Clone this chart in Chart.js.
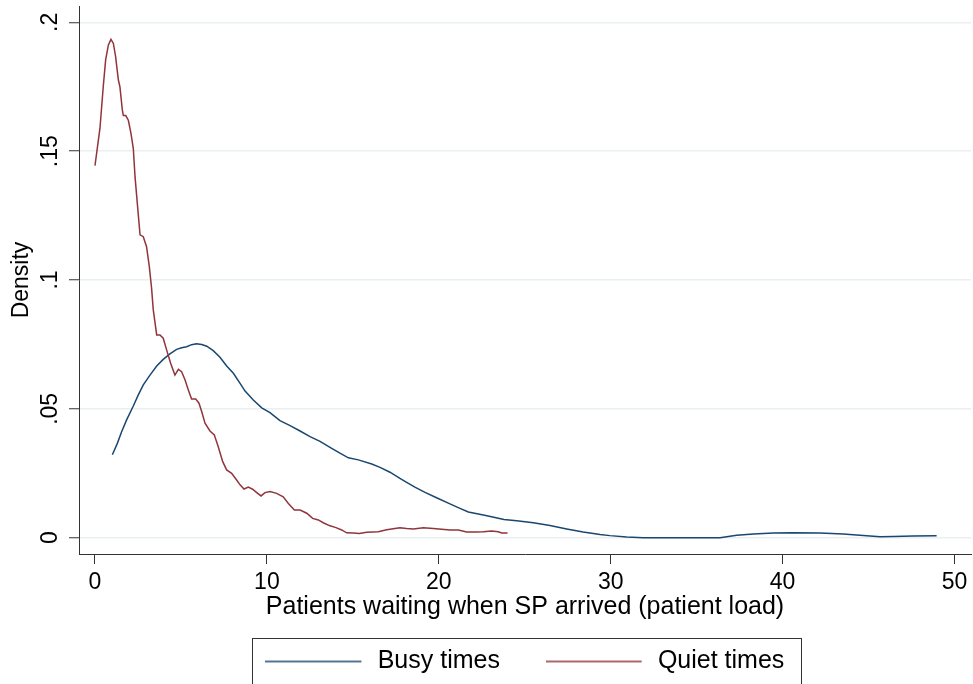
<!DOCTYPE html>
<html><head><meta charset="utf-8">
<script src="https://cdn.jsdelivr.net/npm/chart.js@4.4.1/dist/chart.umd.min.js"></script>
<style>html,body{margin:0;padding:0;background:#fff;} #wrap{width:973px;height:684px;position:relative;}</style>
</head><body><div id="wrap"><canvas id="c"></canvas></div>
<script>
// ---- data ----
const busyX = [1.01,1.30,1.55,1.84,2.23,2.52,2.81,3.20,3.59,3.97,4.36,4.75,5.04,5.33,5.62,5.91,6.21,6.50,6.88,7.27,7.66,8.05,8.44,8.73,9.21,9.70,10.18,10.76,11.35,11.93,12.51,13.09,13.77,14.25,14.74,15.32,16.10,16.58,17.16,17.74,18.13,18.61,19.20,19.87,20.65,21.23,21.72,22.59,23.27,23.79,24.53,25.50,26.47,27.44,28.40,29.38,29.96,30.93,31.90,36.36,37.33,38.30,39.46,40.62,42.17,43.53,44.50,45.67,46.44,47.60,48.96];
const busyY = [0.0322,0.0366,0.0411,0.0457,0.0511,0.0554,0.0593,0.0631,0.0666,0.0692,0.0713,0.0731,0.0737,0.0741,0.0749,0.0753,0.0750,0.0743,0.0726,0.0700,0.0666,0.0638,0.0599,0.0569,0.0534,0.0504,0.0485,0.0454,0.0435,0.0414,0.0392,0.0374,0.0347,0.0328,0.0310,0.0302,0.0286,0.0273,0.0254,0.0230,0.0215,0.0196,0.0176,0.0155,0.0131,0.0114,0.0100,0.0088,0.0078,0.0071,0.0066,0.0058,0.0047,0.0034,0.0022,0.0012,0.0008,0.0003,0.0000,0.0000,0.0009,0.0014,0.0018,0.0019,0.0018,0.0014,0.0009,0.0004,0.0005,0.0007,0.0008];
const quietX = [0.00,0.29,0.48,0.62,0.78,0.93,1.07,1.20,1.36,1.45,1.59,1.65,1.79,1.94,2.09,2.23,2.33,2.48,2.62,2.81,3.00,3.16,3.29,3.39,3.59,3.78,3.97,4.17,4.40,4.65,4.85,5.04,5.24,5.43,5.62,5.86,6.05,6.21,6.40,6.69,6.94,7.17,7.43,7.66,7.95,8.24,8.44,8.67,8.92,9.17,9.41,9.66,9.89,10.18,10.57,10.95,11.25,11.60,11.93,12.32,12.66,12.99,13.28,13.63,14.02,14.35,14.64,15.03,15.38,15.80,16.48,16.97,17.35,17.74,18.13,18.52,19.10,19.68,20.17,20.65,21.14,21.62,22.20,22.59,23.08,23.46,23.66,24.00];
const quietY = [0.1444,0.1589,0.1750,0.1854,0.1912,0.1934,0.1918,0.1867,0.1776,0.1750,0.1660,0.1638,0.1638,0.1620,0.1570,0.1510,0.1400,0.1284,0.1175,0.1168,0.1129,0.1052,0.0970,0.0884,0.0787,0.0787,0.0774,0.0728,0.0677,0.0631,0.0653,0.0644,0.0612,0.0573,0.0538,0.0538,0.0522,0.0489,0.0444,0.0414,0.0399,0.0353,0.0295,0.0263,0.0250,0.0224,0.0205,0.0189,0.0196,0.0188,0.0175,0.0162,0.0175,0.0179,0.0172,0.0159,0.0133,0.0107,0.0107,0.0095,0.0075,0.0069,0.0058,0.0047,0.0039,0.0030,0.0019,0.0018,0.0016,0.0021,0.0023,0.0031,0.0035,0.0039,0.0036,0.0034,0.0039,0.0036,0.0033,0.0030,0.0030,0.0022,0.0022,0.0023,0.0026,0.0023,0.0018,0.0018];
const seriesNames = ['Busy times', 'Quiet times'];
const xTicks = [0, 10, 20, 30, 40, 50];
const xTickLabels = ['0', '10', '20', '30', '40', '50'];
const yTicks = [0, 0.05, 0.1, 0.15, 0.2];
const yTickLabels = ['0', '.05', '.1', '.15', '.2'];
const xTitle = 'Patients waiting when SP arrived (patient load)';
const yTitle = 'Density';

// ---- styling ----
const BLUE = '#1a476f', RED = '#90353b', AXIS = '#333333', GRID = '#eaf0f2';
const F = 23, FL = 25;
Chart.defaults.font.family = '"Liberation Sans", Arial, Helvetica, sans-serif';
Chart.defaults.color = '#000';

function legendLine(color) {
  const c = document.createElement('canvas');
  c.width = 100; c.height = 4;
  const g = c.getContext('2d');
  g.strokeStyle = color; g.lineWidth = 1.5;
  g.beginPath(); g.moveTo(0, 2); g.lineTo(96, 2); g.stroke();
  return c;
}

const legendBox = {
  id: 'legendBox',
  afterDraw(chart) {
    const lg = chart.legend;
    if (!lg || !lg.legendHitBoxes || !lg.legendHitBoxes.length) return;
    const hb = lg.legendHitBoxes, a = hb[0], z = hb[hb.length - 1];
    const ctx = chart.ctx;
    ctx.save();
    ctx.strokeStyle = AXIS; ctx.lineWidth = 1;
    const l = Math.round(a.left - 14) + 0.5, r = Math.round(z.left + z.width + 17) + 0.5;
    const t = Math.round(a.top - 11) + 0.5, b = Math.round(a.top + a.height + 16) + 0.5;
    ctx.strokeRect(l, t, r - l, b - t);
    ctx.restore();
  }
};

new Chart(document.getElementById('c'), {
  type: 'line',
  data: {
    datasets: [
      { label: seriesNames[0], data: busyX.map((x, i) => ({x, y: busyY[i]})), borderColor: BLUE, backgroundColor: BLUE,
        borderWidth: 1.5, pointRadius: 0, pointHoverRadius: 0, pointStyle: legendLine(BLUE), tension: 0, fill: false, order: 1 },
      { label: seriesNames[1], data: quietX.map((x, i) => ({x, y: quietY[i]})), borderColor: RED, backgroundColor: RED,
        borderWidth: 1.5, pointRadius: 0, pointHoverRadius: 0, pointStyle: legendLine(RED), tension: 0, fill: false, order: 0 }
    ]
  },
  options: {
    animation: false, responsive: true, maintainAspectRatio: false, devicePixelRatio: 1,
    layout: { padding: { top: 6, right: 2, left: 0, bottom: 0 } },
    plugins: {
      tooltip: { enabled: false },
      legend: {
        position: 'bottom', fullSize: false,
        labels: { usePointStyle: true, pointStyleWidth: 99.5, padding: 46, color: '#000', font: { size: FL },
                  sort: (a, b) => a.datasetIndex - b.datasetIndex }
      }
    },
    scales: {
      x: {
        type: 'linear', min: -0.93, max: 50.96,
        afterBuildTicks: s => { s.ticks = xTicks.map(v => ({value: v})); },
        afterFit: s => { s.height = 49; s.paddingLeft = 0; s.paddingRight = 0; },
        ticks: { autoSkip: false, maxRotation: 0, minRotation: 0, padding: 5, color: '#000', font: { size: F },
                 callback: (v, i) => xTickLabels[i] },
        grid: { drawOnChartArea: false, drawTicks: true, tickLength: 10, tickColor: AXIS, tickWidth: 1 },
        border: { display: true, color: AXIS, width: 1 },
        title: { display: true, text: xTitle, color: '#000', font: { size: FL, lineHeight: 1 }, padding: { top: 0, bottom: -17 } }
      },
      y: {
        type: 'linear', min: -0.00633, max: 0.20633,
        afterBuildTicks: s => { s.ticks = yTicks.map(v => ({value: v})); },
        afterFit: s => { s.width = 79; s.paddingTop = 0; s.paddingBottom = 0; },
        ticks: { autoSkip: false, minRotation: 90, maxRotation: 90, crossAlign: 'center', padding: 2, color: '#000', font: { size: F },
                 callback: (v, i) => yTickLabels[i] },
        grid: { color: GRID, lineWidth: 1.5, drawTicks: true, tickLength: 10, tickColor: AXIS, tickWidth: 1 },
        border: { display: true, color: AXIS, width: 1 },
        title: { display: true, text: yTitle, color: '#000', font: { size: F }, padding: { top: 8, bottom: 0 } }
      }
    }
  },
  plugins: [legendBox]
});
</script>
</body></html>
